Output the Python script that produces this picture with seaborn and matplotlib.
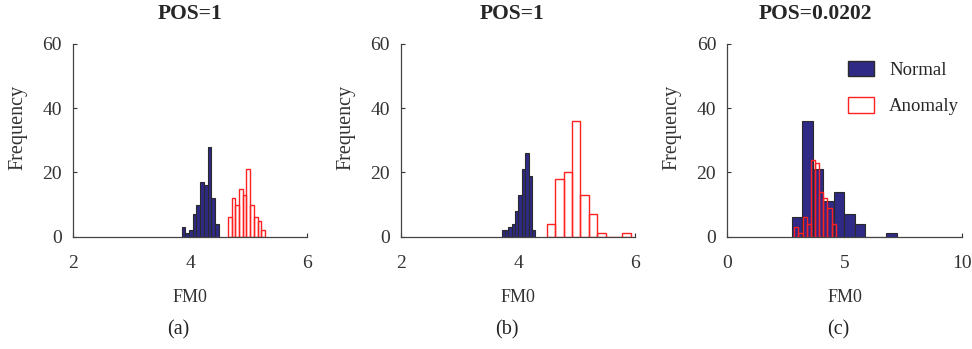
import numpy as np
import pandas as pd
import matplotlib
matplotlib.use("Agg")
import matplotlib.pyplot as plt
import seaborn as sns
from matplotlib.patches import Patch

sns.set_style("white")
plt.rcParams['font.family'] = ['Liberation Serif', 'DejaVu Serif']

# FM0 histogram data: bin range (lo, hi, 10 bins) and counts
normal_a_range = (3.858, 4.49)
normal_a_counts = [3, 1, 2, 7, 10, 17, 16, 28, 12, 4]
anomaly_a_range = (4.65, 5.28)
anomaly_a_counts = [6, 12, 10, 15, 13, 21, 10, 6, 5, 2]

normal_b_range = (3.72, 4.296)
normal_b_counts = [2, 2, 3, 4, 8, 13, 21, 26, 19, 2]
anomaly_b_range = (4.49, 5.93)
anomaly_b_counts = [4, 18, 20, 36, 13, 7, 1, 0, 0, 1]

normal_c_range = (2.74, 7.23)
normal_c_counts = [6, 36, 21, 11, 14, 7, 4, 0, 0, 1]
anomaly_c_range = (2.855, 4.62)
anomaly_c_counts = [3, 1, 6, 4, 24, 23, 14, 12, 9, 4]

titles = ['POS=1', 'POS=1', 'POS=0.0202']
panel_tags = ['(a)', '(b)', '(c)']
xlims = [(2, 6), (2, 6), (0, 10)]
xticks = [[2, 4, 6], [2, 4, 6], [0, 5, 10]]

NAVY = '#2F2A85'
RED = '#FF2020'
TXT = '#333333'


def hist(ax, rng, counts, **kw):
    edges = np.linspace(rng[0], rng[1], len(counts) + 1)
    centers = (edges[:-1] + edges[1:]) / 2
    df = pd.DataFrame({'FM0': centers, 'n': counts})
    # list, not array: seaborn compares bins to "auto" when weights are used
    sns.histplot(data=df, x='FM0', weights='n', bins=edges.tolist(), ax=ax, **kw)


fig = plt.figure(figsize=(9.72, 3.49), dpi=100)
lefts = [73 / 972, 401 / 972, 727.3 / 972]
widths = [234 / 972, 234 / 972, 234.7 / 972]
bottom = 1 - 236.7 / 349
height = (236.7 - 44) / 349
title_x = [0.5, 0.474, 0.375]
tag_x = [178, 507, 838]

data = [
    (normal_a_range, normal_a_counts, anomaly_a_range, anomaly_a_counts),
    (normal_b_range, normal_b_counts, anomaly_b_range, anomaly_b_counts),
    (normal_c_range, normal_c_counts, anomaly_c_range, anomaly_c_counts),
]

for i in range(3):
    ax = fig.add_axes([lefts[i], bottom, widths[i], height])
    nr, nc, ar, ac = data[i]
    hist(ax, nr, nc, color=NAVY, edgecolor='#2a2a2a', linewidth=0.8, alpha=1)
    hist(ax, ar, ac, fill=False, color=RED, linewidth=1.0)
    ax.set_xlim(*xlims[i])
    ax.set_ylim(0, 60)
    ax.set_xticks(xticks[i])
    ax.set_yticks([0, 20, 40, 60])
    ax.tick_params(direction='in', length=3, labelsize=14, colors=TXT,
                   left=True, bottom=True)
    ax.tick_params(axis='x', pad=13)
    ax.tick_params(axis='y', pad=8)
    for s in ['top', 'right']:
        ax.spines[s].set_visible(False)
    for s in ['left', 'bottom']:
        ax.spines[s].set_color('#444444')
        ax.spines[s].set_linewidth(0.9)
    ax.set_ylabel('Frequency', fontsize=14.5, color=TXT, va='center')
    ax.yaxis.set_label_coords(-0.235, 0.567)
    ax.set_xlabel('FM0', fontsize=13, color=TXT, va='center')
    ax.xaxis.set_label_coords(0.5, -0.313)
    ax.set_title(titles[i], fontsize=15.5, fontweight='bold', va='center',
                 x=title_x[i], y=1.156, pad=0)
    fig.text(tag_x[i] / 972, 1 - 330 / 349,
             panel_tags[i], ha='center', va='center', fontsize=14.5, color='#222222')
    if i == 2:
        handles = [Patch(facecolor=NAVY, edgecolor='#2a2a2a', label='Normal'),
                   Patch(facecolor='white', edgecolor=RED, label='Anomaly')]
        ax.legend(handles=handles, loc='upper right', frameon=False, fontsize=13.5,
                  handlelength=1.4, handleheight=0.9, labelspacing=0.95,
                  bbox_to_anchor=(1.06, 1.0))

fig.savefig('out.png', dpi=100)
